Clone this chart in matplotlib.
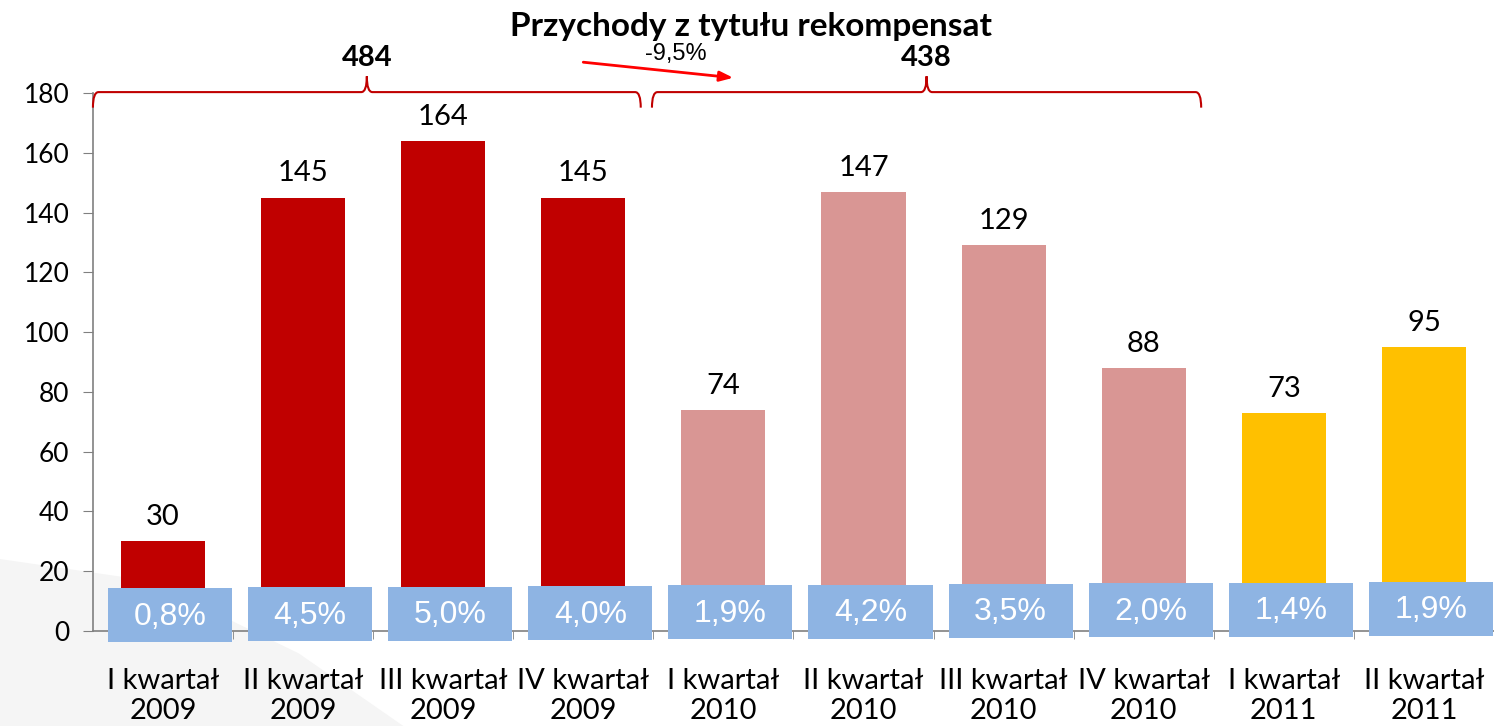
import matplotlib
matplotlib.use("Agg")
import matplotlib.pyplot as plt
from matplotlib.patches import Rectangle, Polygon, PathPatch
from matplotlib.path import Path
import numpy as np

categories = ["I kwartał\n2009", "II kwartał\n2009", "III kwartał\n2009", "IV kwartał\n2009",
              "I kwartał\n2010", "II kwartał\n2010", "III kwartał\n2010", "IV kwartał\n2010",
              "I kwartał\n2011", "II kwartał\n2011"]
values = [30, 145, 164, 145, 74, 147, 129, 88, 73, 95]
shares = ["0,8%", "4,5%", "5,0%", "4,0%", "1,9%", "4,2%", "3,5%", "2,0%", "1,4%", "1,9%"]
years = [2009, 2009, 2009, 2009, 2010, 2010, 2010, 2010, 2011, 2011]
year_colors = {2009: "#C00000", 2010: "#D99694", 2011: "#FFC000"}
year_totals = {2009: 484, 2010: 438}
change_label = "-9,5%"
title = "Przychody z tytułu rekompensat"
yticks = [0, 20, 40, 60, 80, 100, 120, 140, 160, 180]

main_font = ["Lato", "DejaVu Sans"]
narrow_font = ["Liberation Sans Narrow", "Liberation Sans", "DejaVu Sans"]

fig = plt.figure(figsize=(14.94, 7.26), dpi=100)
# faint background swoosh
bg = Polygon([[0, 0], [0, 0.23], [0.1, 0.2], [0.2, 0.1], [0.27, 0]], closed=True,
             transform=fig.transFigure, facecolor="#F5F5F5", edgecolor="none", zorder=-5)
fig.patches.append(bg)

ax = fig.add_axes([0.0622, 0.1309, 0.9378, 0.741])
ax.patch.set_alpha(0)
x = np.arange(len(values))
colors = [year_colors[y] for y in years]
ax.bar(x, values, width=0.6, color=colors, zorder=2)

ax.set_xlim(-0.5, len(values) - 0.5)
ax.set_ylim(0, 180)
ax.set_yticks(yticks)
ax.set_yticklabels([str(t) for t in yticks], fontsize=19, family=main_font)
ax.set_xticks(x)
ax.set_xticklabels(categories, fontsize=21, family=main_font, linespacing=1.15)
ax.tick_params(axis="x", length=0, pad=27)
ax.tick_params(axis="y", length=7, color="#808080", pad=10)
ax.set_xticks(np.arange(0.5, len(values) - 0.5, 1), minor=True)
ax.tick_params(axis="x", which="minor", length=6, color="#808080", direction="out")
for s in ["top", "right"]:
    ax.spines[s].set_visible(False)
for s in ["left", "bottom"]:
    ax.spines[s].set_color("#808080")
    ax.spines[s].set_linewidth(1.2)

# value labels
for xi, v in zip(x, values):
    ax.annotate(str(v), (xi, v), xytext=(0, 8), textcoords="offset points",
                ha="center", va="bottom", fontsize=21, family=main_font, zorder=5)

# share boxes
for i, (xi, s) in enumerate(zip(x, shares)):
    cy = 5.3 + 0.23 * i
    ax.add_patch(Rectangle((xi + 0.05 - 0.443, cy - 9.05), 0.886, 18.1,
                           facecolor="#8EB4E3", edgecolor="none", zorder=4, clip_on=False))
    ax.text(xi + 0.05, cy - 0.5, s, ha="center", va="center", color="white",
            fontsize=23, family=narrow_font, zorder=5, clip_on=False)

# braces
def brace(x0, x1, xm, ybase, drop, rise):
    r = 0.04
    verts = [(x0, ybase - drop), (x0, ybase), (x0 + r, ybase),
             (xm - r, ybase), (xm, ybase), (xm, ybase + rise),
             (xm, ybase), (xm + r, ybase),
             (x1 - r, ybase), (x1, ybase), (x1, ybase - drop)]
    codes = [Path.MOVETO, Path.CURVE3, Path.CURVE3,
             Path.LINETO, Path.CURVE3, Path.CURVE3,
             Path.CURVE3, Path.CURVE3,
             Path.LINETO, Path.CURVE3, Path.CURVE3]
    ax.add_patch(PathPatch(Path(verts, codes), facecolor="none", edgecolor="#C00000",
                           lw=1.5, clip_on=False, zorder=6))

for yr, x0 in [(2009, -0.5), (2010, 3.49)]:
    idx = [i for i, y in enumerate(years) if y == yr]
    x1 = idx[-1] + 0.41
    xm = (x0 + x1) / 2
    brace(x0, x1, xm, 180.3, 5.2, 5.3)
    ax.text(xm, 187.5, str(year_totals[yr]), ha="center", va="bottom",
            fontsize=21, fontweight="bold", family=main_font, clip_on=False)

ax.annotate("", xy=(4.09, 185.0), xytext=(2.98, 190.4),
            arrowprops=dict(arrowstyle="-|>,head_length=0.8,head_width=0.3", color="#FF0000", lw=2),
            annotation_clip=False)
ax.text(3.66, 193.2, change_label, ha="center", va="center", fontsize=17,
        family=narrow_font, clip_on=False)

fig.text(0.503, 0.963, title, ha="center", va="center", fontsize=24,
         fontweight="bold", family=main_font)

fig.savefig("out.png", dpi=100)
